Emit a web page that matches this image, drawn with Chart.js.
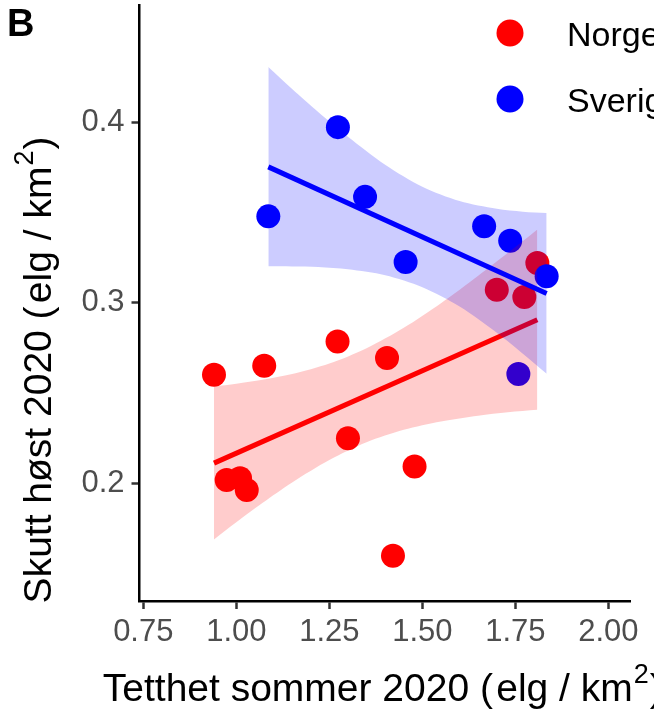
<!DOCTYPE html>
<html lang="no">
<head>
  <meta charset="UTF-8" />
  <title>Skutt høst 2020 mot tetthet sommer 2020</title>
  <script src="https://cdn.jsdelivr.net/npm/chart.js"></script>
  <style>
    body {
      margin: 0;
      background: #ffffff;
    }
    canvas {
      display: block;
    }
  </style>
</head>
<body>
  <canvas id="chart" width="654" height="721"></canvas>

  <script>
    // punkter
    const seriesNames = ['Norge', 'Sverige'];
    const seriesColors = ['#ff0000', '#0000ff'];

    const norgeX = [0.940, 1.075, 1.272, 1.405, 0.974, 1.010, 1.028, 1.300, 1.479, 1.421, 1.700, 1.774, 1.809];
    const norgeY = [0.2601, 0.2651, 0.2786, 0.2694, 0.2019, 0.2029, 0.1964, 0.2250, 0.2093, 0.1600, 0.3072, 0.3032, 0.3220];

    const sverigeX = [1.086, 1.273, 1.346, 1.455, 1.666, 1.736, 1.834, 1.758];
    const sverigeY = [0.3478, 0.3972, 0.3586, 0.3225, 0.3423, 0.3343, 0.3146, 0.2605];

    // regresjonslinjer (endepunkter)
    const norgeFitX = [0.940, 1.809];
    const norgeFitY = [0.2112, 0.2906];
    const sverigeFitX = [1.086, 1.834];
    const sverigeFitY = [0.3752, 0.3051];

    // konfidensbånd
    const norgeBandX = [0.940, 1.00, 1.07, 1.15, 1.25, 1.35, 1.45, 1.55, 1.65, 1.73, 1.809];
    const norgeBandHi = [0.2536, 0.2551, 0.2573, 0.2605, 0.2663, 0.2748, 0.2861, 0.2997, 0.3149, 0.3276, 0.3406];
    const norgeBandLo = [0.1690, 0.1785, 0.1891, 0.2005, 0.2129, 0.2228, 0.2297, 0.2343, 0.2375, 0.2394, 0.2408];

    const sverigeBandX = [1.086, 1.15, 1.22, 1.30, 1.40, 1.50, 1.60, 1.70, 1.77, 1.834];
    const sverigeBandHi = [0.4305, 0.4183, 0.4056, 0.3919, 0.3764, 0.3642, 0.3563, 0.3520, 0.3504, 0.3497];
    const sverigeBandLo = [0.3202, 0.3201, 0.3198, 0.3185, 0.3152, 0.3086, 0.2979, 0.2834, 0.2718, 0.2607];

    const xTicks = [0.75, 1.00, 1.25, 1.50, 1.75, 2.00];
    const yTicks = [0.2, 0.3, 0.4];

    const xTitle = ['Tetthet sommer 2020 (\u200Aelg / km', '2', ')'];
    const yTitle = ['Skutt høst 2020 (\u200Aelg / km', '2', ')'];
    const panelTag = 'B';

    const FONT = '"Liberation Sans", Arial, sans-serif';

    const pts = (xs, ys) => xs.map((x, i) => ({ x: x, y: ys[i] }));

    function pointSet(label, xs, ys, color, order) {
      return {
        type: 'scatter',
        label: label,
        data: pts(xs, ys),
        backgroundColor: color,
        borderWidth: 0,
        pointRadius: 12,
        pointHoverRadius: 12,
        order: order
      };
    }

    function lineSet(xs, ys, color, order) {
      return {
        type: 'line',
        data: pts(xs, ys),
        borderColor: color,
        borderWidth: 5,
        pointRadius: 0,
        fill: false,
        order: order
      };
    }

    function bandSet(xs, ys, fillColor, fill, order) {
      return {
        type: 'line',
        data: pts(xs, ys),
        borderWidth: 0,
        borderColor: 'rgba(0,0,0,0)',
        backgroundColor: fillColor,
        pointRadius: 0,
        tension: 0.3,
        fill: fill,
        order: order
      };
    }

    function drawSup(ctx, parts, x, y, size, align) {
      ctx.font = size + 'px ' + FONT;
      const w0 = ctx.measureText(parts[0]).width;
      const w2 = ctx.measureText(parts[2]).width;
      ctx.font = Math.round(size * 0.7) + 'px ' + FONT;
      const w1 = ctx.measureText(parts[1]).width;
      const total = w0 + w1 + w2 + 2;
      let x0 = align === 'center' ? x - total / 2 : x;
      ctx.textAlign = 'left';
      ctx.textBaseline = 'alphabetic';
      ctx.font = size + 'px ' + FONT;
      ctx.fillText(parts[0], x0, y);
      ctx.font = Math.round(size * 0.7) + 'px ' + FONT;
      ctx.fillText(parts[1], x0 + w0 + 1, y - size * 0.47);
      ctx.font = size + 'px ' + FONT;
      ctx.fillText(parts[2], x0 + w0 + w1 + 2, y);
    }

    const annotations = {
      id: 'annotations',
      afterDraw(chart) {
        const ctx = chart.ctx;
        const area = chart.chartArea;
        ctx.save();
        ctx.fillStyle = '#000000';

        // panel-bokstav
        ctx.font = 'bold 38px ' + FONT;
        ctx.textAlign = 'left';
        ctx.textBaseline = 'alphabetic';
        ctx.fillText(panelTag, 7, 36);

        // forklaring
        const legendY = [33, 99];
        seriesNames.forEach((name, i) => {
          ctx.beginPath();
          ctx.arc(510, legendY[i], 13.5, 0, Math.PI * 2);
          ctx.fillStyle = seriesColors[i];
          ctx.fill();
          ctx.fillStyle = '#000000';
          ctx.font = '34px ' + FONT;
          ctx.textBaseline = 'alphabetic';
          ctx.textAlign = 'left';
          ctx.fillText(name, 567, legendY[i] + 13);
        });

        // aksetitler
        drawSup(ctx, xTitle, (area.left + area.right) / 2 - 2, 701, 39, 'center');

        ctx.translate(51, 370);
        ctx.rotate(-Math.PI / 2);
        drawSup(ctx, yTitle, 0, 0, 39, 'center');
        ctx.restore();
      }
    };

    new Chart(document.getElementById('chart'), {
      type: 'scatter',
      data: {
        datasets: [
          pointSet(seriesNames[0], norgeX, norgeY, seriesColors[0], 9),
          pointSet(seriesNames[1], sverigeX, sverigeY, seriesColors[1], 8),
          bandSet(norgeBandX, norgeBandHi, 'rgba(255,0,0,0.2)', '+1', 6),
          bandSet(norgeBandX, norgeBandLo, 'rgba(255,0,0,0.2)', false, 6),
          lineSet(norgeFitX, norgeFitY, seriesColors[0], 5),
          bandSet(sverigeBandX, sverigeBandHi, 'rgba(0,0,255,0.2)', '+1', 4),
          bandSet(sverigeBandX, sverigeBandLo, 'rgba(0,0,255,0.2)', false, 4),
          lineSet(sverigeFitX, sverigeFitY, seriesColors[1], 1)
        ]
      },
      options: {
        responsive: false,
        animation: false,
        events: [],
        layout: {
          autoPadding: false,
          padding: { top: 5, right: 24, left: 0, bottom: 0 }
        },
        plugins: {
          legend: { display: false },
          tooltip: { enabled: false },
          filler: { drawTime: 'beforeDatasetDraw' }
        },
        scales: {
          x: {
            type: 'linear',
            min: 0.7398,
            max: 2.058,
            afterFit: axis => {
              axis.height = 120;
              axis.paddingLeft = 0;
              axis.paddingRight = 0;
            },
            afterBuildTicks: axis => { axis.ticks = xTicks.map(v => ({ value: v })); },
            border: { display: true, color: '#000000', width: 2.5 },
            grid: {
              display: true,
              drawOnChartArea: false,
              drawTicks: true,
              tickLength: 8,
              tickColor: '#333333',
              tickWidth: 2.5
            },
            ticks: {
              padding: 5,
              color: '#4d4d4d',
              font: { family: FONT, size: 31 },
              maxRotation: 0,
              callback: v => v.toFixed(2)
            }
          },
          y: {
            type: 'linear',
            min: 0.1349,
            max: 0.4648,
            afterFit: axis => {
              axis.width = 139.5;
              axis.paddingTop = 0;
              axis.paddingBottom = 0;
            },
            afterBuildTicks: axis => { axis.ticks = yTicks.map(v => ({ value: v })); },
            border: { display: true, color: '#000000', width: 2.5 },
            grid: {
              display: true,
              drawOnChartArea: false,
              drawTicks: true,
              tickLength: 8,
              tickColor: '#333333',
              tickWidth: 2.5
            },
            ticks: {
              padding: 7,
              color: '#4d4d4d',
              font: { family: FONT, size: 31 },
              callback: v => v.toFixed(1)
            }
          }
        }
      },
      plugins: [annotations]
    });
  </script>
</body>
</html>
